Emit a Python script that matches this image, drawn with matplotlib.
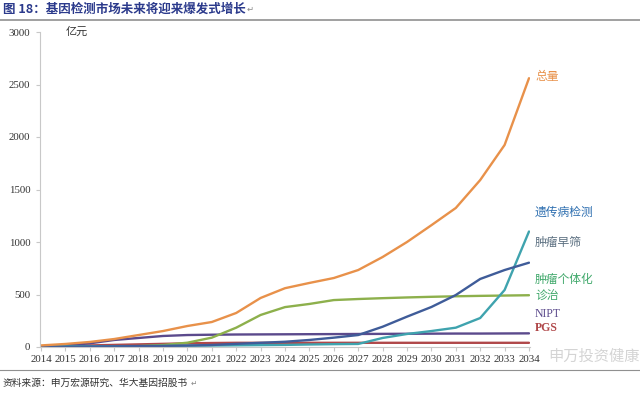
import numpy as np
import matplotlib
matplotlib.use('Agg')
import matplotlib.pyplot as plt

plt.rcParams['font.family'] = ['Noto Sans CJK SC', 'DejaVu Sans']

years = list(range(2014, 2035))

# 亿元
total = [15, 29, 48, 76, 114, 152, 200, 238, 324, 467, 560, 610, 657, 733,
         857, 1000, 1160, 1324, 1590, 1924, 2560]
genetic = [5, 6, 7, 8, 9, 10, 12, 14, 16, 18, 20, 24, 27, 29,
           86, 124, 152, 184, 276, 543, 1100]
screening = [0, 2, 4, 6, 8, 10, 14, 19, 30, 40, 50, 67, 89, 114,
             193, 289, 381, 495, 648, 733, 803]
personal = [0, 1, 2, 4, 8, 19, 41, 89, 184, 305, 380, 410, 447, 457,
            465, 472, 478, 483, 487, 490, 493]
nipt = [5, 15, 35, 67, 86, 105, 114, 117, 119, 120, 121, 122, 123, 124,
        125, 126, 127, 128, 128, 129, 130]
pgs = [5, 10, 15, 20, 25, 30, 35, 38, 40, 40, 40, 40, 40, 40,
       40, 40, 40, 40, 40, 40, 40]

series = [
    (pgs, '#b0484a'),
    (nipt, '#5b4a8c'),
    (personal, '#8db04c'),
    (genetic, '#3fa3ae'),
    (screening, '#3f5c99'),
    (total, '#e8914a'),
]

fig = plt.figure(figsize=(6.4, 3.95), dpi=100)
px = 1 / 24.35
ax = fig.add_axes([40 / 640, (395 - 347) / 395, 490 / 640, (347 - 32) / 395])

for vals, col in series:
    ax.plot(years, vals, color=col, linewidth=1.7, solid_capstyle='round')

ax.set_xlim(2014 - px, 2014 + 489 / 24.35 - px)
ax.set_ylim(0, 3000)
ax.set_yticks(range(0, 3001, 500))
ax.set_xticks(years)
for s in ['top', 'right']:
    ax.spines[s].set_visible(False)
for s in ['left', 'bottom']:
    ax.spines[s].set_color('#c8c8c8')
    ax.spines[s].set_linewidth(0.8)
ax.tick_params(axis='y', length=3, color='#c8c8c8', pad=4)
ax.tick_params(axis='x', length=3, color='#c8c8c8', pad=3)
for lab in ax.get_xticklabels() + ax.get_yticklabels():
    lab.set_family('Liberation Serif')
    lab.set_fontsize(7.8)
    lab.set_color('#333333')

ax.text(2015.0, 3000, '亿元', fontsize=8, color='#333333', va='center')

# series labels at line ends
lx = 2034.25
ax.text(lx, 2580, '总量', color='#e8914a', fontsize=8.5, va='center')
ax.text(lx, 1280, '遗传病检测', color='#2e6fb0', fontsize=8.5, va='center')
ax.text(lx, 1000, '肿瘤早筛', color='#5b6f80', fontsize=8.5, va='center')
ax.text(lx, 640, '肿瘤个体化', color='#3fa86a', fontsize=8.5, va='center')
ax.text(lx, 480, '诊治', color='#3fa86a', fontsize=8.5, va='center')
ax.text(lx, 310, 'NIPT', color='#5b4a8c', fontsize=8.5, va='center',
        family='Liberation Serif')
ax.text(lx, 180, 'PGS', color='#b0484a', fontsize=8.5, va='center',
        family='Liberation Serif', fontweight='bold')

# title, rules and source
fig.text(3 / 640, 1 - 9 / 395, '图 18：基因检测市场未来将迎来爆发式增长',
         fontsize=9, fontweight='bold', color='#2b3a8c', va='center')
fig.text(247 / 640, 1 - 9 / 395, '↵', fontsize=6, color='#888888',
         va='center', family=['DejaVu Sans'])
fig.add_artist(plt.Line2D([0, 1], [1 - 20 / 395] * 2, color='#909090',
                          linewidth=1.2))
fig.add_artist(plt.Line2D([0, 1], [1 - 370 / 395] * 2, color='#909090',
                          linewidth=0.8))
fig.text(3 / 640, 1 - 383 / 395, '资料来源：申万宏源研究、华大基因招股书',
         fontsize=7, color='#333333', va='center')
fig.text(191 / 640, 1 - 383 / 395, '↵', fontsize=5.5, color='#888888',
         va='center', family=['DejaVu Sans'])

# watermark
fig.text(548 / 640, 1 - 356 / 395, '申万投资健康', fontsize=11,
         color='#b8b8b8', alpha=0.6, va='center')

fig.savefig('out.png', dpi=100)
